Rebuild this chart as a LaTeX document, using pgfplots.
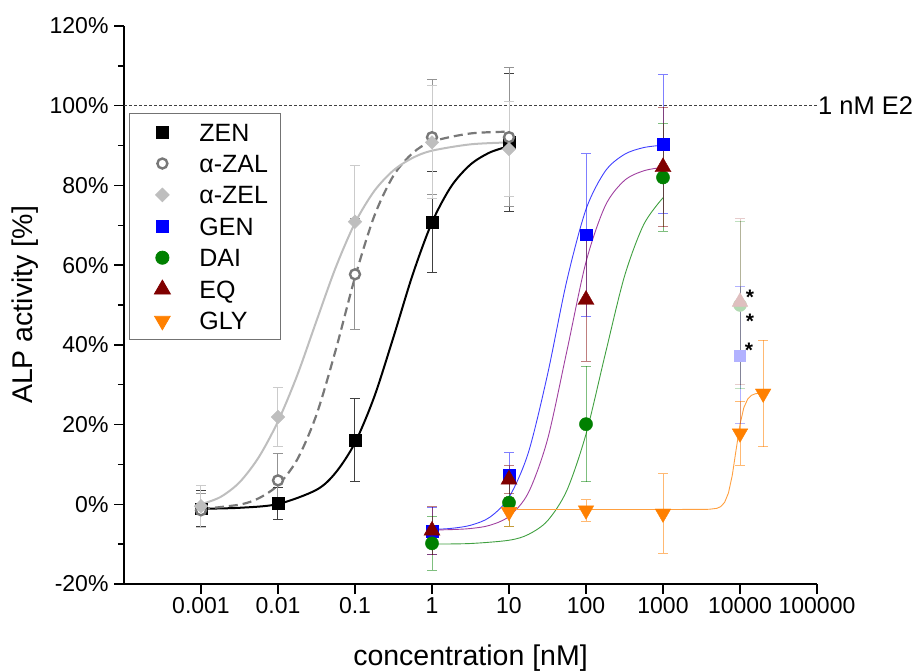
\documentclass[border=0pt]{standalone}
\usepackage{fontspec}
\setmainfont{Liberation Sans}
\usepackage{pgfplots}
\pgfplotsset{compat=1.18}
\definecolor{zalgray}{RGB}{120,120,120}
\definecolor{zelgray}{RGB}{190,190,190}
\definecolor{genblue}{RGB}{0,0,255}
\definecolor{daigreen}{RGB}{0,128,0}
\definecolor{eqred}{RGB}{128,0,0}
\definecolor{glyorange}{RGB}{255,128,0}
\definecolor{eqcurve}{RGB}{160,64,160}
\pgfplotsset{
  dat/.style={only marks,
    legend image code/.code={\path[draw=none, fill=none] (0pt,-8pt) rectangle (58pt,8pt);
      \draw[##1] plot coordinates {(21pt,0pt)};}},
  ebar/.style={/pgfplots/error bars/y dir=both, /pgfplots/error bars/y explicit,
    /pgfplots/error bars/error bar style={line width=1pt, #1},
    /pgfplots/error bars/error mark options={#1, rotate=90, line width=1pt, mark size=5pt}},
}
\begin{document}
\begin{tikzpicture}
\useasboundingbox (0,0) rectangle (915pt,670pt);
\begin{axis}[
  at={(124pt,86pt)}, anchor=south west,
  scale only axis, width=693pt, height=558pt,
  xmode=log, xmin=1e-4, xmax=1e5, ymin=-20, ymax=120,
  axis lines=left, axis line style={-, line width=1.5pt},
  tick align=outside, major tick length=10pt, minor tick length=6pt,
  tick style={black, line width=1.5pt},
  xtick={0.001,0.01,0.1,1,10,100,1000,10000,100000},
  xticklabels={0.001,0.01,0.1,1,10,100,1000,10000,100000},
  xminorticks=false,
  ytick={-20,0,20,40,60,80,100,120},
  yticklabels={-20\%,0\%,20\%,40\%,60\%,80\%,100\%,120\%},
  minor ytick={-10,10,30,50,70,90,110},
  tick label style={font=\fontsize{23}{27}\selectfont},
  yticklabel style={xshift=-2pt},
  xlabel={concentration [nM]}, ylabel={ALP activity [\%]},
  label style={font=\fontsize{28.5}{33}\selectfont},
  xlabel style={at={(axis description cs:0.5,-0.132)}, anchor=center},
  ylabel style={at={(axis description cs:-0.143,0.5)}, anchor=center},
  clip=false,
  legend cell align=left,
  legend style={at={(axis description cs:0.0072,0.8446)}, anchor=north west,
    draw=black!55, line width=0.8pt, inner xsep=12pt, inner ysep=10pt,
    font=\fontsize{25}{30}\selectfont, row sep=13.4pt,
    nodes={inner sep=0pt, text height=18pt, text depth=0pt}},
]
% 1 nM E2 reference
\addplot[forget plot, black!75, line width=0.8pt, dash pattern=on 3pt off 2pt]
  coordinates {(1e-4,100) (1e5,100)};
\node[anchor=west, inner sep=1pt, font=\fontsize{25.5}{30}\selectfont] at (axis cs:1e5,100) {1 nM E2};

% fitted curves
\addplot[forget plot, smooth, black, line width=2pt] coordinates {
  (0.001,-1.12) (0.00316,-0.88) (0.01,0.06) (0.0316,3.63) (0.0562,7.96) (0.1,15.44)
  (0.178,26.98) (0.316,41.95) (0.562,57.66) (1,70.74) (1.78,79.79) (3.16,85.24)
  (5.62,88.26) (10,89.84)};
\addplot[forget plot, smooth, zalgray, line width=2.2pt, dash pattern=on 9pt off 5pt] coordinates {
  (0.001,-1.2) (0.00316,-0.09) (0.00562,1.51) (0.01,4.82) (0.0178,11.25) (0.0316,22.46)
  (0.0562,38.72) (0.1,56.95) (0.178,72.32) (0.316,82.46) (0.562,88.13) (1,91.0)
  (3.16,93.04) (10,93.48)};
\addplot[forget plot, smooth, zelgray, line width=2pt] coordinates {
  (0.001,0.0) (0.00178,1.8) (0.00316,5.5) (0.00562,11.8) (0.01,20.8) (0.0178,32.4)
  (0.0316,46.0) (0.0562,59.43) (0.1,70.59) (0.178,78.6) (0.316,83.78) (0.562,86.92)
  (1,88.72) (3.16,90.31) (10,90.79)};
\addplot[forget plot, smooth, genblue!75, line width=0.9pt] coordinates {
  (1,-6.33) (1.78,-6.04) (3.16,-5.27) (5.62,-3.26) (10,1.75) (17.8,12.9) (31.6,32.5)
  (56.2,56.0) (100,74.0) (178,83.6) (316,87.8) (562,89.5) (1000,90.1)};
\addplot[forget plot, smooth, daigreen!75, line width=0.9pt] coordinates {
  (1,-9.98) (3.16,-9.84) (10,-9.02) (17.8,-7.58) (31.6,-4.15) (56.2,3.41) (100,17.6)
  (178,37.7) (316,57.2) (562,70.2) (1000,76.9)};
\addplot[forget plot, smooth, eqcurve, line width=0.9pt] coordinates {
  (1,-6.45) (1.78,-6.35) (3.16,-6.08) (5.62,-5.28) (10,-3.04) (17.8,2.85) (31.6,16.22)
  (56.2,38.28) (100,60.79) (178,74.9) (316,81.25) (562,83.67) (1000,84.54)};
\addplot[forget plot, glyorange!75, line width=0.9pt] coordinates {
  (10,-1.3) (100,-1.3) (1000,-1.3) (3162,-1.29) (3981,-1.25) (5012,-1.01) (5623,-0.58)
  (6310,0.48) (7079,2.83) (7943,7.3) (8913,13.75) (10000,20.05) (11220,24.26)
  (12589,26.4) (14125,27.35) (15849,27.74) (20000,27.96)};

% faded points at 10000 nM
\addplot[forget plot, only marks, mark=square*, mark size=5.5pt, color=genblue!30,
  ebar={color=genblue, opacity=0.3}] coordinates {(10000,37.4) +- (0,17.2)};
\addplot[forget plot, only marks, mark=*, mark size=6.5pt, color=daigreen!30,
  ebar={color=daigreen, opacity=0.25}] coordinates {(10000,50.0) +- (0,21.0)};
\addplot[forget plot, only marks, mark=triangle*, mark size=9pt, color=eqred!25,
  ebar={color=eqred, opacity=0.2}] coordinates {(10000,50.8) +- (0,20.8)};

% data
\addplot[dat, mark=square*, mark size=5.8pt, black, ebar={color=black!75}] coordinates {
  (0.001,-1.1) +- (0,4.5) (0.01,0.3) +- (0,4.0) (0.1,16.1) +- (0,10.5)
  (1,70.8) +- (0,12.6) (10,90.8) +- (0,17.3)};
\addlegendentry{ZEN}
\addplot[dat, mark=*, mark size=5pt, mark options={draw=zalgray, fill=white, line width=2.4pt},
  ebar={color=zalgray!80}] coordinates {
  (0.001,-1.5) +- (0,4.2) (0.01,6.0) +- (0,6.7) (0.1,57.7) +- (0,13.9)
  (1,92.1) +- (0,14.4) (10,92.1) +- (0,17.5)};
\addlegendentry{α-ZAL}
\addplot[dat, mark=square*, mark size=4.8pt, mark options={rotate=45}, color=zelgray,
  ebar={color=zelgray!80}] coordinates {
  (0.001,-0.5) +- (0,5.2) (0.01,21.9) +- (0,7.5) (0.1,70.9) +- (0,14.1)
  (1,90.8) +- (0,14.2) (10,89.1) +- (0,11.9)};
\addlegendentry{α-ZEL}
\addplot[dat, mark=square*, mark size=5.8pt, color=genblue, ebar={color=genblue, opacity=0.5}] coordinates {
  (1,-6.7) +- (0,6.0) (10,7.3) +- (0,5.6) (100,67.6) +- (0,20.4) (1000,90.4) +- (0,17.4)};
\addlegendentry{GEN}
\addplot[dat, mark=*, mark size=6.6pt, color=daigreen, ebar={color=daigreen, opacity=0.5}] coordinates {
  (1,-9.8) +- (0,6.8) (10,0.4) +- (0,5.9) (100,20.1) +- (0,14.5) (1000,82.0) +- (0,13.5)};
\addlegendentry{DAI}
\addplot[dat, mark=triangle*, mark size=9.3pt, color=eqred, ebar={color=eqred, opacity=0.5}] coordinates {
  (1,-6.6) +- (0,6.0) (10,6.2) +- (0,3.5) (100,51.3) +- (0,15.4) (1000,84.6) +- (0,15.0)};
\addlegendentry{EQ}
\addplot[dat, mark=triangle*, mark size=9pt, mark options={rotate=180}, color=glyorange,
  ebar={color=glyorange, opacity=0.55}] coordinates {
  (10,-1.9) +- (0,3.6) (100,-1.5) +- (0,2.7) (1000,-2.3) +- (0,10.0)
  (10000,17.8) +- (0,8.0) (20000,27.8) +- (0,13.4)};
\addlegendentry{GLY}

% significance marks
\node[anchor=base west, inner sep=0pt, text height=10pt, text depth=0pt, font=\fontsize{21}{24}\selectfont\bfseries] at (axis cs:11860,50.2) {*};
\node[anchor=base west, inner sep=0pt, text height=10pt, text depth=0pt, font=\fontsize{21}{24}\selectfont\bfseries] at (axis cs:11860,44.1) {*};
\node[anchor=base west, inner sep=0pt, text height=10pt, text depth=0pt, font=\fontsize{21}{24}\selectfont\bfseries] at (axis cs:11500,36.8) {*};
\end{axis}
\end{tikzpicture}
\end{document}
